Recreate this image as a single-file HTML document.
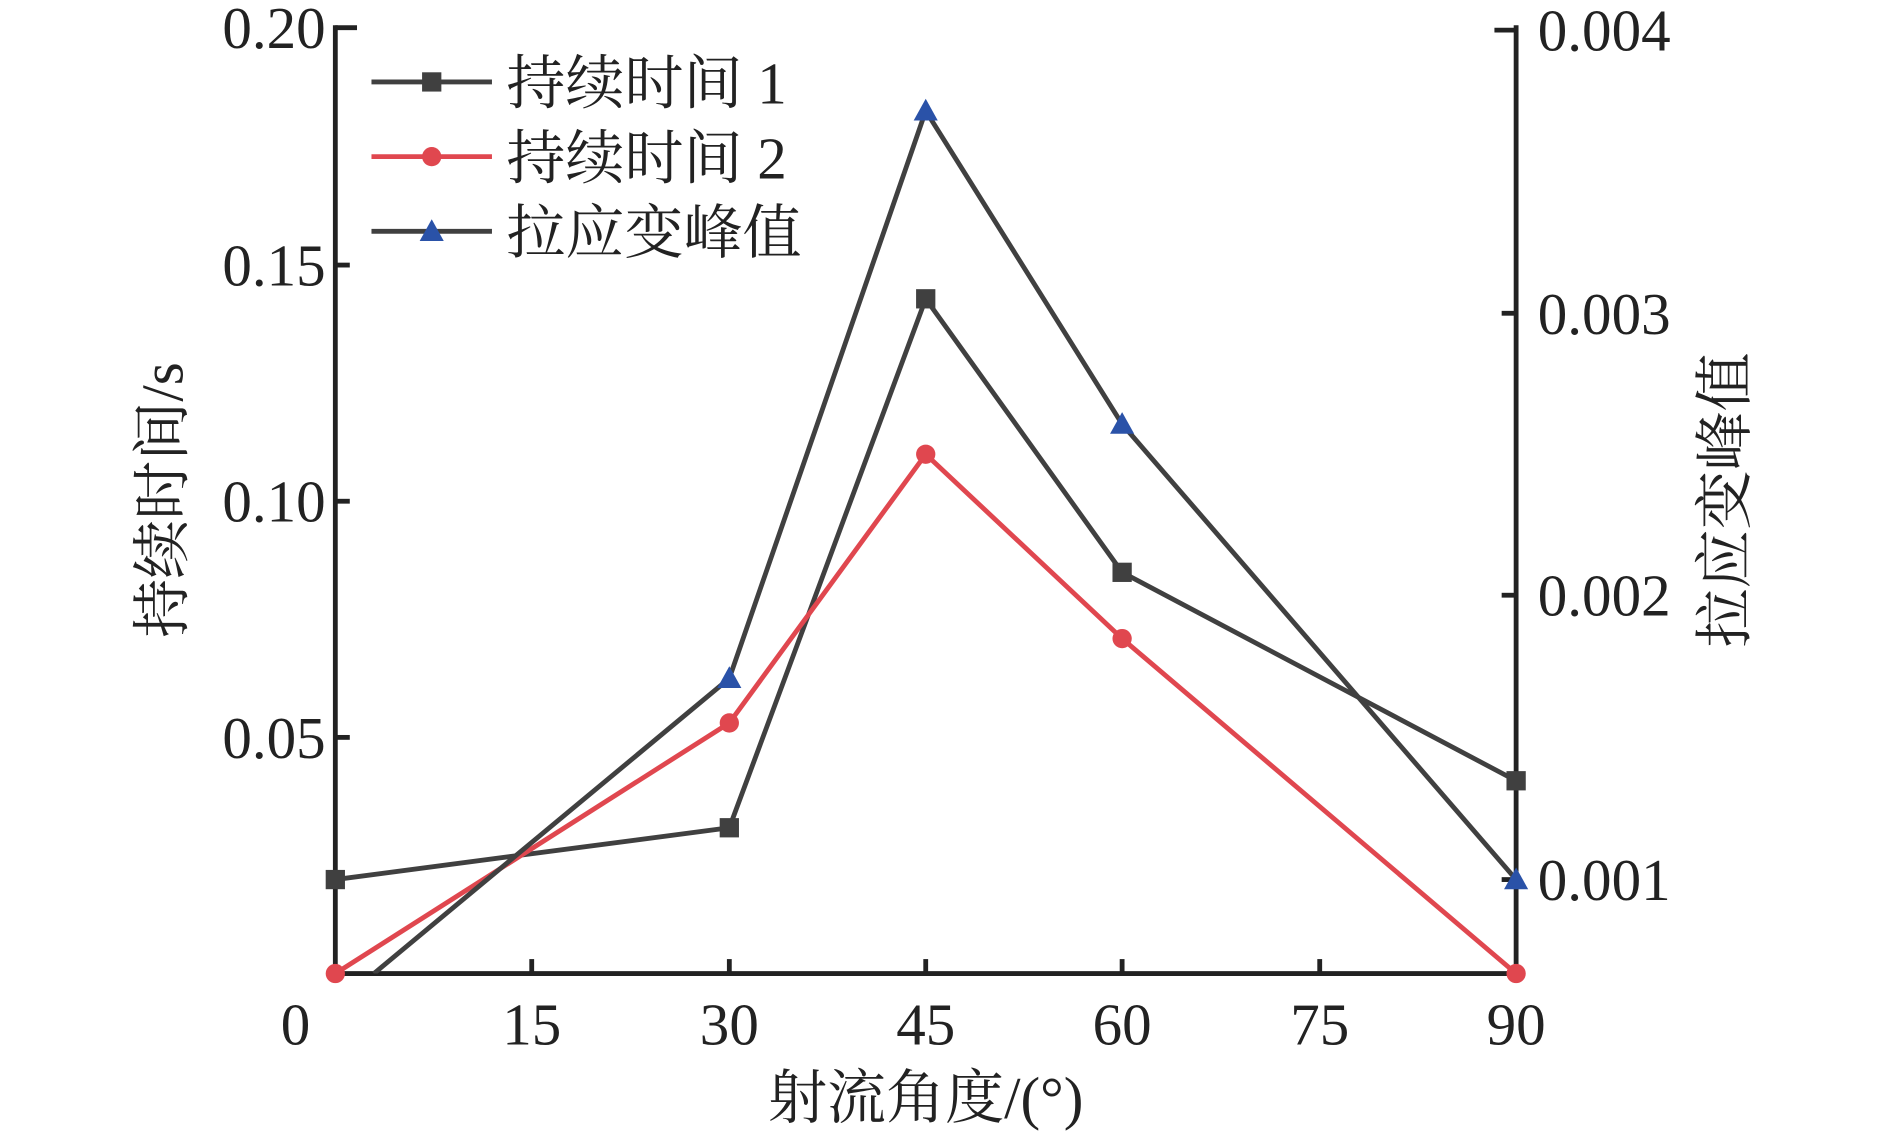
<!DOCTYPE html>
<html><head><meta charset="utf-8"><style>html,body{margin:0;padding:0;background:#fff}svg{display:block}</style></head>
<body>
<svg width="1890" height="1135" viewBox="0 0 1568 942" xmlns="http://www.w3.org/2000/svg">
<defs><clipPath id="c"><rect x="278" y="0" width="990" height="808"/></clipPath></defs>
<g font-family="'Liberation Serif','Noto Serif CJK SC',serif" font-size="49" fill="#222">
<g stroke="#222" stroke-width="4" fill="none">
<line x1="278" y1="21" x2="278" y2="810"/>
<line x1="276" y1="808" x2="1260" y2="808"/>
<line x1="1258" y1="21" x2="1258" y2="810"/>
<line x1="278" y1="23" x2="296" y2="23"/>
<line x1="278" y1="220" x2="290" y2="220"/>
<line x1="278" y1="416" x2="290" y2="416"/>
<line x1="278" y1="612" x2="290" y2="612"/>
<line x1="441" y1="808" x2="441" y2="796"/>
<line x1="605" y1="808" x2="605" y2="796"/>
<line x1="768" y1="808" x2="768" y2="796"/>
<line x1="931" y1="808" x2="931" y2="796"/>
<line x1="1095" y1="808" x2="1095" y2="796"/>
<line x1="1240" y1="25" x2="1258" y2="25"/>
<line x1="1246" y1="260" x2="1258" y2="260"/>
<line x1="1246" y1="494" x2="1258" y2="494"/>
<line x1="1246" y1="730" x2="1258" y2="730"/>
</g>
<g text-anchor="end">
<text x="270" y="40">0.20</text><text x="270" y="237">0.15</text>
<text x="270" y="433">0.10</text><text x="270" y="629">0.05</text>
</g>
<g text-anchor="middle">
<text x="245" y="867">0</text><text x="441" y="867">15</text><text x="605" y="867">30</text>
<text x="768" y="867">45</text><text x="931" y="867">60</text><text x="1095" y="867">75</text><text x="1258" y="867">90</text>
<text x="768" y="928">射流角度/(°)</text>
<text transform="translate(151,415) rotate(-90)">持续时间/s</text>
<text transform="translate(1448,415) rotate(-90)">拉应变峰值</text>
</g>
<g>
<text x="1276" y="42">0.004</text><text x="1276" y="277">0.003</text>
<text x="1276" y="511">0.002</text><text x="1276" y="747">0.001</text>
</g>
<g clip-path="url(#c)" stroke-width="4" fill="none" stroke-linejoin="round">
<polyline stroke="#404040" points="278,730 605,687 768,248 931,475 1258,648"/>
<polyline stroke="#e0474f" points="278,808 605,600 768,377 931,530 1258,808"/>
<polyline stroke="#404040" points="310,808 605,563 768,92 931,352 1258,730"/>
</g>
<g fill="#404040">
<rect x="270" y="722" width="16" height="16"/><rect x="597" y="679" width="16" height="16"/>
<rect x="760" y="240" width="16" height="16"/><rect x="923" y="467" width="16" height="16"/>
<rect x="1250" y="640" width="16" height="16"/>
</g>
<g fill="#e0474f">
<circle cx="278" cy="808" r="8"/><circle cx="605" cy="600" r="8"/><circle cx="768" cy="377" r="8"/>
<circle cx="931" cy="530" r="8"/><circle cx="1258" cy="808" r="8"/>
</g>
<g fill="#2a52a8">
<polygon points="605,553 595,571 615,571"/><polygon points="768,82 758,100 778,100"/>
<polygon points="931,342 921,360 941,360"/><polygon points="1258,720 1248,738 1268,738"/>
</g>
<g stroke-width="4">
<line x1="308" y1="68" x2="408" y2="68" stroke="#404040"/>
<line x1="308" y1="130" x2="408" y2="130" stroke="#e0474f"/>
<line x1="308" y1="192" x2="408" y2="192" stroke="#404040"/>
</g>
<rect x="350" y="60" width="16" height="16" fill="#404040"/>
<circle cx="358" cy="130" r="8" fill="#e0474f"/>
<polygon points="358,182 348,200 368,200" fill="#2a52a8"/>
<text x="420" y="86">持续时间 1</text>
<text x="420" y="148">持续时间 2</text>
<text x="420" y="210">拉应变峰值</text>
</g>
</svg>
</body></html>
